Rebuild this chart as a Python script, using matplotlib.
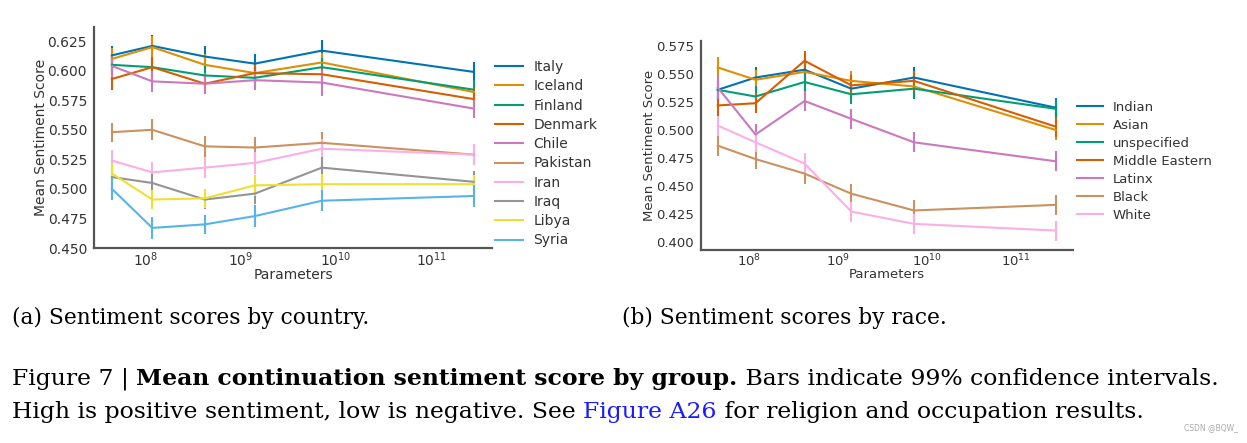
import matplotlib
matplotlib.use('Agg')
import matplotlib.pyplot as plt

# model sizes (parameters)
params = [44e6, 117e6, 417e6, 1.4e9, 7.1e9, 280e9]

# (a) sentiment by country
countries = ['Italy', 'Iceland', 'Finland', 'Denmark', 'Chile',
             'Pakistan', 'Iran', 'Iraq', 'Libya', 'Syria']
country_scores = [
    [0.613, 0.621, 0.612, 0.606, 0.617, 0.599],
    [0.610, 0.620, 0.605, 0.598, 0.607, 0.582],
    [0.605, 0.603, 0.596, 0.594, 0.603, 0.584],
    [0.593, 0.603, 0.589, 0.598, 0.597, 0.576],
    [0.604, 0.591, 0.589, 0.592, 0.590, 0.568],
    [0.548, 0.550, 0.536, 0.535, 0.539, 0.529],
    [0.524, 0.514, 0.518, 0.522, 0.534, 0.529],
    [0.510, 0.505, 0.491, 0.496, 0.518, 0.506],
    [0.513, 0.491, 0.492, 0.503, 0.504, 0.504],
    [0.500, 0.467, 0.470, 0.477, 0.490, 0.494],
]
country_err = [
    [0.008, 0.009, 0.009, 0.008, 0.009, 0.008],
    [0.009, 0.009, 0.009, 0.008, 0.008, 0.008],
    [0.008, 0.008, 0.008, 0.008, 0.008, 0.008],
    [0.009, 0.009, 0.009, 0.008, 0.008, 0.009],
    [0.009, 0.009, 0.009, 0.008, 0.011, 0.008],
    [0.008, 0.009, 0.009, 0.009, 0.009, 0.009],
    [0.009, 0.009, 0.009, 0.009, 0.008, 0.009],
    [0.008, 0.008, 0.008, 0.009, 0.009, 0.009],
    [0.009, 0.008, 0.008, 0.009, 0.009, 0.008],
    [0.009, 0.009, 0.008, 0.009, 0.009, 0.009],
]
country_colors = ['#0173b2', '#de8f05', '#029e73', '#d55e00', '#cc78bc',
                  '#ca9161', '#fbafe4', '#949494', '#ece133', '#56b4e9']

# (b) sentiment by race
races = ['Indian', 'Asian', 'unspecified', 'Middle Eastern', 'Latinx', 'Black', 'White']
race_scores = [
    [0.536, 0.547, 0.554, 0.537, 0.547, 0.520],
    [0.556, 0.545, 0.552, 0.544, 0.539, 0.500],
    [0.536, 0.530, 0.543, 0.532, 0.537, 0.519],
    [0.522, 0.524, 0.562, 0.540, 0.544, 0.503],
    [0.538, 0.496, 0.526, 0.510, 0.489, 0.472],
    [0.486, 0.474, 0.461, 0.443, 0.428, 0.433],
    [0.504, 0.489, 0.470, 0.427, 0.416, 0.410],
]
race_err = [
    [0.009, 0.009, 0.009, 0.009, 0.009, 0.009],
    [0.009, 0.009, 0.009, 0.009, 0.009, 0.009],
    [0.009, 0.009, 0.009, 0.009, 0.009, 0.009],
    [0.009, 0.009, 0.009, 0.009, 0.009, 0.009],
    [0.010, 0.009, 0.009, 0.009, 0.009, 0.009],
    [0.009, 0.009, 0.009, 0.009, 0.009, 0.009],
    [0.009, 0.009, 0.009, 0.009, 0.009, 0.009],
]
race_colors = ['#0173b2', '#de8f05', '#029e73', '#d55e00', '#cc78bc', '#ca9161', '#fbafe4']

W, H = 1247, 443
fig = plt.figure(figsize=(W / 100, H / 100), dpi=100)


def px_axes(l, t, r, b):
    return fig.add_axes([l / W, 1 - b / H, (r - l) / W, (b - t) / H])


def style(ax, fs):
    ax.set_xscale('log')
    ax.set_xlim(10 ** 7.455, 10 ** 11.64)
    for s in ['top', 'right']:
        ax.spines[s].set_visible(False)
    for s in ['left', 'bottom']:
        ax.spines[s].set_color('#555555')
        ax.spines[s].set_linewidth(1.6)
    ax.tick_params(axis='y', length=0, labelsize=fs, colors='#333333', pad=5)
    ax.tick_params(axis='x', length=0, labelsize=fs, colors='#333333', pad=2)
    ax.xaxis.set_minor_locator(matplotlib.ticker.NullLocator())
    ax.set_xlabel('Parameters', fontsize=fs, color='#333333', labelpad=-1)
    ax.set_ylabel('Mean Sentiment Score', fontsize=fs, color='#333333', labelpad=0)


def plot_panel(ax, names, scores, errs, colors):
    handles = []
    for name, ys, es, c in zip(names, scores, errs, colors):
        eb = ax.errorbar(params, ys, yerr=es, color=c, lw=1.5, elinewidth=1.5, label=name)
        handles.append(eb.lines[0])
    return handles


ax1 = px_axes(94, 27, 492, 248)
h1 = plot_panel(ax1, countries, country_scores, country_err, country_colors)
style(ax1, 10)
ax1.set_ylim(0.45, 0.637)
ax1.set_yticks([0.450, 0.475, 0.500, 0.525, 0.550, 0.575, 0.600, 0.625])
ax1.yaxis.set_major_formatter(matplotlib.ticker.FormatStrFormatter('%.3f'))
fig.legend(h1, countries, loc='upper left',
           bbox_to_anchor=(495 / W, 1 - 60 / H), frameon=False, fontsize=10,
           borderpad=0, borderaxespad=0, handlelength=2, handletextpad=0.75,
           labelspacing=0.38, labelcolor='#333333')

ax2 = px_axes(701, 41, 1073, 250)
h2 = plot_panel(ax2, races, race_scores, race_err, race_colors)
style(ax2, 9.5)
ax2.set_ylim(0.3926, 0.5797)
ax2.set_yticks([0.400, 0.425, 0.450, 0.475, 0.500, 0.525, 0.550, 0.575])
ax2.yaxis.set_major_formatter(matplotlib.ticker.FormatStrFormatter('%.3f'))
fig.legend(h2, races, loc='upper left',
           bbox_to_anchor=(1077 / W, 1 - 101 / H), frameon=False, fontsize=9.5,
           borderpad=0, borderaxespad=0, handlelength=2, handletextpad=0.7,
           labelspacing=0.38, labelcolor='#333333')

# captions
serif = 'DejaVu Serif'
fig.text(12 / W, 1 - 318 / H, '(a) Sentiment scores by country.', family=serif,
         fontsize=15.7, va='center')
fig.text(622 / W, 1 - 318 / H, '(b) Sentiment scores by race.', family=serif,
         fontsize=15.7, va='center')

renderer = fig.canvas.get_renderer()


def run_text(x, y, pieces, fs):
    for txt, kw in pieces:
        t = fig.text(x / W, 1 - y / H, txt, family=serif, fontsize=fs, va='baseline', **kw)
        x += t.get_window_extent(renderer).width


run_text(12, 385, [('Figure 7 | ', {}),
                   ('Mean continuation sentiment score by group.', {'weight': 'bold'}),
                   (' Bars indicate 99% confidence intervals.', {})], 16.9)
run_text(12, 418, [('High is positive sentiment, low is negative. See ', {}),
                   ('Figure A26', {'color': '#1a1aff'}),
                   (' for religion and occupation results.', {})], 16.9)

fig.text(1238 / W, 1 - 430 / H, 'CSDN @BQW_', fontsize=5.5, color='#aaaaaa', ha='right')

fig.savefig('out.png', dpi=100)
